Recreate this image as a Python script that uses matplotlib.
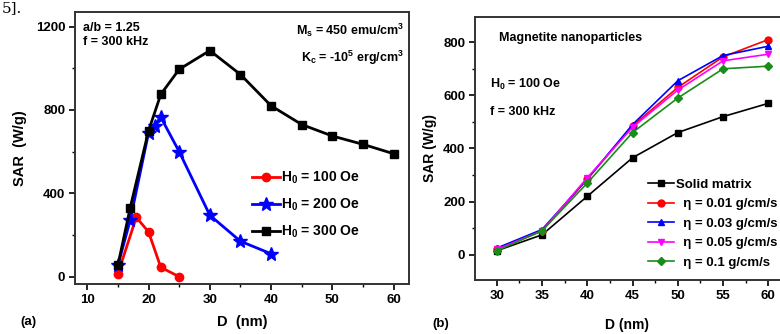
import numpy as np
import matplotlib
matplotlib.use("Agg")
import matplotlib.pyplot as plt
from matplotlib.ticker import MultipleLocator

plt.rcParams['font.family'] = ['Liberation Sans', 'DejaVu Sans']
plt.rcParams['font.weight'] = 'bold'
plt.rcParams['mathtext.fontset'] = 'custom'
plt.rcParams['mathtext.rm'] = 'Liberation Sans:bold'
plt.rcParams['mathtext.it'] = 'Liberation Sans:bold'
plt.rcParams['mathtext.bf'] = 'Liberation Sans:bold'

# (a) SAR vs D for different field amplitudes
d100 = [15, 18, 20, 22, 25]
sar100 = [15, 285, 215, 45, 0]
d200 = [15, 17, 20, 21, 22, 25, 30, 35, 40]
sar200 = [55, 270, 690, 725, 765, 600, 295, 170, 110]
d300 = [15, 17, 20, 22, 25, 30, 35, 40, 45, 50, 55, 60]
sar300 = [55, 330, 700, 875, 995, 1085, 970, 820, 730, 675, 635, 590]

# (b) SAR vs D for different viscosities
d_b = [30, 35, 40, 45, 50, 55, 60]
sar_solid = [15, 75, 220, 365, 460, 520, 570]
sar_001 = [20, 90, 285, 485, 630, 745, 810]
sar_003 = [25, 95, 285, 490, 655, 750, 785]
sar_005 = [20, 90, 290, 480, 620, 730, 755]
sar_01 = [15, 90, 270, 460, 590, 700, 710]

W, H = 780, 334
fig = plt.figure(figsize=(W / 100, H / 100), dpi=100)

def px(l, t, r, b):
    return [l / W, 1 - b / H, (r - l) / W, (b - t) / H]

def style(ax):
    for s in ax.spines.values():
        s.set_linewidth(1.4)
        s.set_color('#333333')
    ax.tick_params(direction='out', length=4, width=1.2, labelsize=9.5, pad=3)
    ax.tick_params(which='minor', direction='out', length=2.5, width=1)
    for lab in ax.get_xticklabels() + ax.get_yticklabels():
        lab.set_fontweight('bold')

# panel (a)
ax1 = fig.add_axes(px(75, 12, 409, 284))
ax1.plot(d100, sar100, '-o', color='red', lw=2, ms=6, label=r'H$_0$ = 100 Oe')
ax1.plot(d200, sar200, '-*', color='blue', lw=2, ms=10, label=r'H$_0$ = 200 Oe')
ax1.plot(d300, sar300, '-s', color='black', lw=2, ms=6, label=r'H$_0$ = 300 Oe')
ax1.set_xlim(8, 62.5)
ax1.set_ylim(-35, 1270)
ax1.set_xticks([10, 20, 30, 40, 50, 60])
ax1.set_yticks([0, 400, 800, 1200])
ax1.xaxis.set_minor_locator(MultipleLocator(5))
ax1.yaxis.set_minor_locator(MultipleLocator(200))
style(ax1)
ax1.set_ylabel('SAR  (W/g)', fontsize=10.5, fontweight='bold', labelpad=6)
ax1.legend(loc='upper left', bbox_to_anchor=(0.53, 0.42), frameon=False,
           fontsize=10, handlelength=2.0, handletextpad=0.1, labelspacing=0.75,
           borderaxespad=0, borderpad=0)
ax1.text(0.025, 0.965, 'a/b = 1.25\nf = 300 kHz', transform=ax1.transAxes,
         ha='left', va='top', fontsize=9, linespacing=1.3)
ax1.text(0.985, 0.965, r'M$_s$ = 450 emu/cm$^3$', transform=ax1.transAxes,
         ha='right', va='top', fontsize=9)
ax1.text(0.985, 0.865, r'K$_c$ = -10$^5$ erg/cm$^3$', transform=ax1.transAxes,
         ha='right', va='top', fontsize=9)
fig.text(20 / W, 1 - 322 / H, '(a)', fontsize=9.5, ha='left', va='center')
fig.text(242 / W, 1 - 322 / H, 'D  (nm)', fontsize=10.5, ha='center', va='center')

# panel (b)
ax2 = fig.add_axes(px(475, 17, 781, 280))
ax2.plot(d_b, sar_solid, '-s', color='black', lw=1.2, ms=5, label='Solid matrix')
ax2.plot(d_b, sar_001, '-o', color='red', lw=1.2, ms=5, label='  η = 0.01 g/cm/s')
ax2.plot(d_b, sar_003, '-^', color='blue', lw=1.2, ms=5, label='  η = 0.03 g/cm/s')
ax2.plot(d_b, sar_005, '-v', color='magenta', lw=1.2, ms=5, label='  η = 0.05 g/cm/s')
ax2.plot(d_b, sar_01, '-D', color='#1a8c1a', lw=1.2, ms=4.5, label='  η = 0.1 g/cm/s')
ax2.set_xlim(27.6, 61.4)
ax2.set_ylim(-95, 895)
ax2.set_xticks(d_b)
ax2.set_yticks([0, 200, 400, 600, 800])
ax2.xaxis.set_minor_locator(MultipleLocator(2.5))
ax2.yaxis.set_minor_locator(MultipleLocator(100))
style(ax2)
ax2.set_ylabel('SAR (W/g)', fontsize=10, fontweight='bold', labelpad=4)
ax2.legend(loc='upper left', bbox_to_anchor=(0.565, 0.385), frameon=False,
           fontsize=9.5, handlelength=2.0, handletextpad=0.1, labelspacing=0.55,
           borderaxespad=0, borderpad=0)
ax2.text(0.08, 0.92, 'Magnetite nanoparticles', transform=ax2.transAxes,
         ha='left', va='center', fontsize=9)
ax2.text(0.05, 0.745, r'H$_0$ = 100 Oe', transform=ax2.transAxes,
         ha='left', va='center', fontsize=9)
ax2.text(0.05, 0.64, 'f = 300 kHz', transform=ax2.transAxes,
         ha='left', va='center', fontsize=9)
fig.text(432 / W, 1 - 324 / H, '(b)', fontsize=9.5, ha='left', va='center')
fig.text(627 / W, 1 - 325 / H, 'D (nm)', fontsize=10, ha='center', va='center')

# text fragment at the top-left corner
fig.text(0.002, 0.998, '5].', fontsize=11, family='DejaVu Serif',
         fontweight='normal', ha='left', va='top')

fig.savefig('out.png', dpi=100)
